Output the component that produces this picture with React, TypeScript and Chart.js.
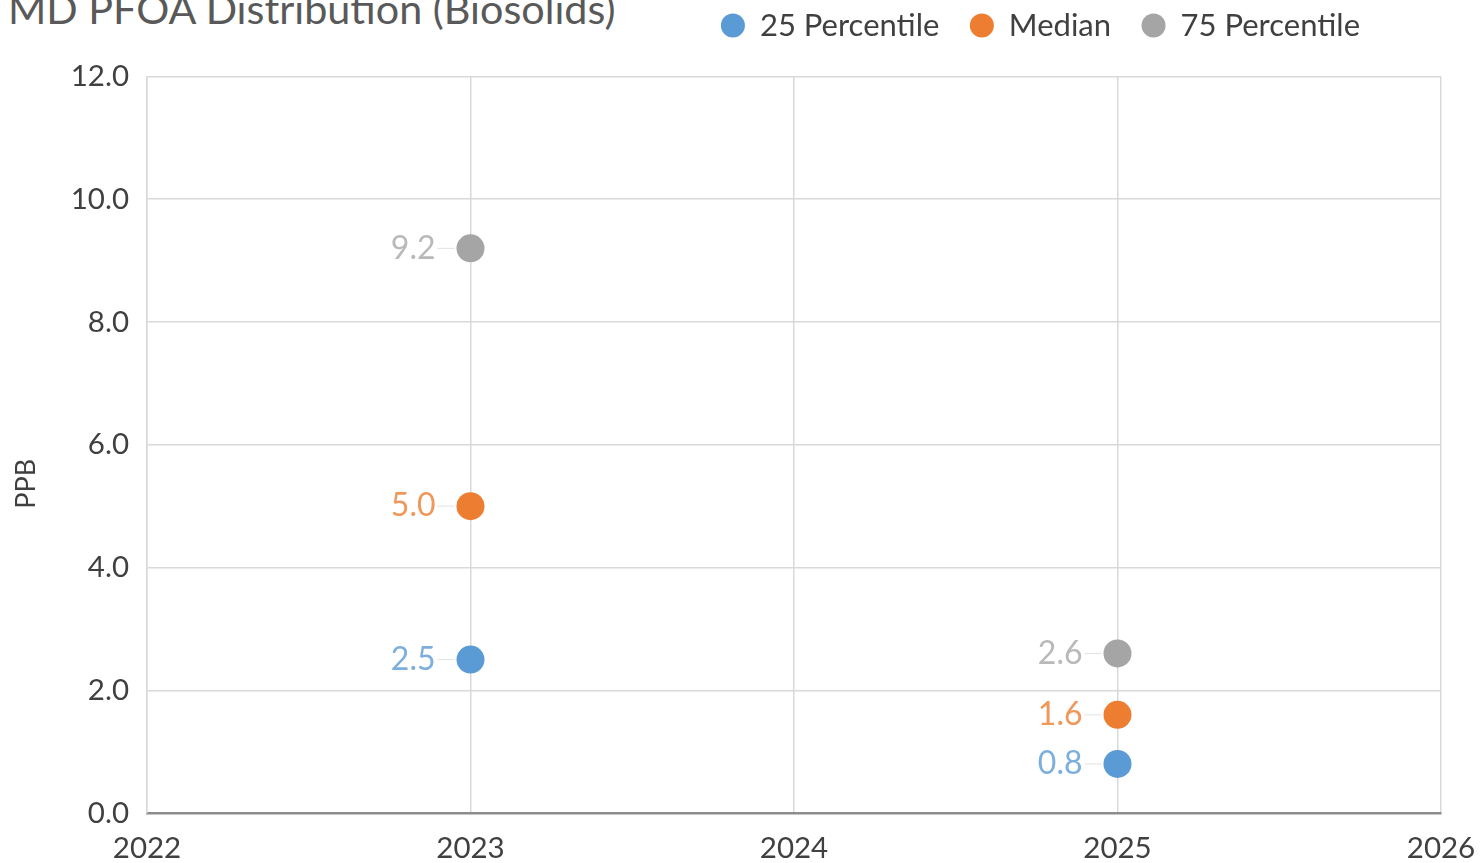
import React, { useEffect, useRef } from 'react';
import { Chart, registerables } from 'chart.js';

Chart.register(...registerables);

// ---- data ----
const years = [2023, 2025];
const p25 = [2.5, 0.8];
const median = [5.0, 1.6];
const p75 = [9.2, 2.6];
const seriesNames = ['25 Percentile', 'Median', '75 Percentile'];
const seriesValues = [p25, median, p75];
const seriesColors = ['#5B9BD5', '#ED7D31', '#A5A5A5'];
const labelColors = ['#7CAFDD', '#F0975A', '#B9B9B9'];
const xMin = 2022;
const xMax = 2026;
const xStep = 1;
const yMin = 0;
const yMax = 12;
const yStep = 2;
const chartTitle = 'MD PFOA Distribution (Biosolids)';
const yAxisTitle = 'PPB';

const FONT = 'Lato, Carlito, "Open Sans", sans-serif';
const TEXT = '#404040';

const pointLabelPlugin = {
  id: 'pointLabels',
  afterDatasetsDraw(chart: any) {
    const ctx = chart.ctx;
    chart.data.datasets.forEach((ds: any, i: number) => {
      const meta = chart.getDatasetMeta(i);
      meta.data.forEach((pt: any, j: number) => {
        const v = ds.data[j].y;
        const x = pt.x;
        const y = pt.y;
        ctx.save();
        ctx.strokeStyle = 'rgba(190,190,190,0.45)';
        ctx.lineWidth = 1;
        ctx.beginPath();
        ctx.moveTo(x - 33, y);
        ctx.lineTo(x - 16, y);
        ctx.stroke();
        ctx.font = `32px ${FONT}`;
        ctx.fillStyle = labelColors[i];
        ctx.textAlign = 'right';
        ctx.textBaseline = 'middle';
        ctx.fillText(v.toFixed(1), x - 35, y);
        ctx.restore();
      });
    });
  },
};

const axisTitlePlugin = {
  id: 'axisTitleLeft',
  afterDraw(chart: any) {
    const { ctx, chartArea } = chart;
    ctx.save();
    ctx.translate(26, chartArea.top + (chartArea.bottom - chartArea.top) * 0.553);
    ctx.rotate(-Math.PI / 2);
    ctx.font = `27px ${FONT}`;
    ctx.fillStyle = TEXT;
    ctx.textAlign = 'center';
    ctx.textBaseline = 'middle';
    ctx.fillText(yAxisTitle, 0, 0);
    ctx.restore();
  },
};

const legendShiftPlugin = {
  id: 'legendShift',
  beforeDraw(chart: any) {
    if (chart.legend) {
      chart.legend.right = chart.chartArea.right - 50;
    }
  },
};

export default function App() {
  const canvasRef = useRef<HTMLCanvasElement | null>(null);

  useEffect(() => {
    if (!canvasRef.current) return;
    const datasets = seriesNames.map((name, i) => ({
      label: name,
      data: years.map((yr, j) => ({ x: yr, y: seriesValues[i][j] })),
      backgroundColor: seriesColors[i],
      borderColor: seriesColors[i],
      borderWidth: 0,
      pointRadius: 14,
      pointHoverRadius: 14,
      pointStyle: 'circle',
    }));

    const chart = new Chart(canvasRef.current, {
      type: 'scatter',
      data: { datasets },
      plugins: [pointLabelPlugin, axisTitlePlugin, legendShiftPlugin],
      options: {
        animation: false,
        responsive: false,
        maintainAspectRatio: false,
        layout: { padding: { top: -21, left: 0, right: 40, bottom: 0 } },
        plugins: {
          tooltip: { enabled: false },
          title: { display: false },
          subtitle: {
            display: true,
            text: '',
            weight: 500,
            padding: { top: 0, bottom: 13.5 },
            font: { size: 10 },
          } as any,
          legend: {
            display: true,
            position: 'top',
            align: 'end',
            labels: {
              usePointStyle: true,
              pointStyle: 'circle',
              boxWidth: 23,
              boxHeight: 17,
              padding: 31,
              color: TEXT,
              font: { family: FONT, size: 31 },
            },
          },
        },
        scales: {
          x: {
            type: 'linear',
            min: xMin,
            max: xMax,
            afterFit: (s: any) => {
              s.height = 50;
              s.paddingRight = 0;
              s.paddingLeft = 0;
            },
            ticks: {
              stepSize: xStep,
              padding: 18,
              color: TEXT,
              font: { family: FONT, size: 29.5 },
              callback: (v: any) => String(v),
              maxRotation: 0,
            },
            grid: { color: '#D9D9D9', lineWidth: 1.5, drawTicks: false },
            border: { color: '#8C8C8C', width: 2.5 },
          },
          y: {
            type: 'linear',
            min: yMin,
            max: yMax,
            afterFit: (s: any) => {
              s.width = 147;
            },
            ticks: {
              stepSize: yStep,
              padding: 18,
              color: TEXT,
              font: { family: FONT, size: 29.5 },
              callback: (v: any) => Number(v).toFixed(1),
            },
            grid: { color: '#D9D9D9', lineWidth: 1.5, drawTicks: false },
            border: { color: '#D9D9D9', width: 1.5 },
          },
        },
      } as any,
    });
    return () => chart.destroy();
  }, []);

  return (
    <div
      style={{
        position: 'fixed',
        left: 0,
        top: 0,
        width: 1481,
        height: 863,
        overflow: 'hidden',
        background: '#fff',
      }}
    >
      <div
        style={{
          position: 'absolute',
          left: 8,
          top: -12,
          fontFamily: FONT,
          fontSize: 41.3,
          lineHeight: 1,
          color: '#595959',
          whiteSpace: 'nowrap',
        }}
      >
        {chartTitle}
      </div>
      <canvas
        ref={canvasRef}
        width={1481}
        height={863}
        style={{ position: 'absolute', left: 0, top: 0, width: 1481, height: 863 }}
      />
    </div>
  );
}
